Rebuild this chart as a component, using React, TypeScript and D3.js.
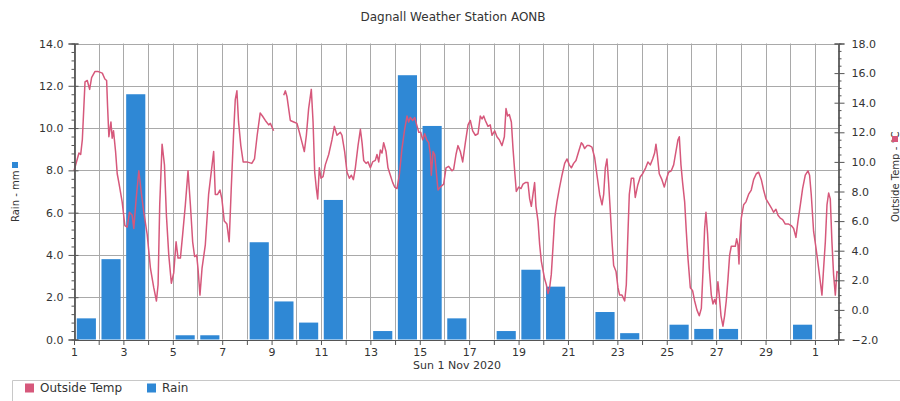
import React, { useEffect, useRef } from 'react';
import * as d3 from 'd3';

// daily rain, Nov 2020 (mm)
const rainDays = [1, 2, 3, 4, 5, 6, 7, 8, 9, 10, 11, 12, 13, 14, 15, 16, 17, 18, 19, 20, 21, 22, 23, 24, 25, 26, 27, 28, 29, 30];
const rainMm = [1.0, 3.8, 11.6, 0, 0.2, 0.2, 0, 4.6, 1.8, 0.8, 6.6, 0, 0.4, 12.5, 10.1, 1.0, 0, 0.4, 3.3, 2.5, 0, 1.3, 0.3, 0, 0.7, 0.5, 0.5, 0, 0, 0.7];

// outside temp: [hours since 1 Nov 00:00, degC]; null = missing data
const tempReadings: ([number, number] | null)[] = [
  [0, 9.4], [3.2, 10.2], [4.8, 10.6], [6.5, 10.5], [8.1, 11.5], [10.7, 15.4], [12.9, 15.5], [15.2, 14.9], [17.1, 15.7], [20.3, 16.1],
  [23.6, 16.1], [27.5, 16.0], [30, 15.6], [31.7, 15.5], [32.6, 13.8], [33.9, 11.7], [35.9, 12.7], [37.1, 11.6], [38.4, 12.1], [40.4, 10.7],
  [42, 9.2], [43.6, 8.6], [46.8, 7.3], [49.4, 5.7], [51.7, 5.6], [53.9, 6.6], [56.5, 6.4], [58.1, 5.5], [60.4, 7.5], [63, 9.4],
  [65.6, 7.8], [67.8, 6.6], [71.1, 5.1], [74.3, 2.8], [77.5, 1.5], [80.1, 0.6], [81.7, 1.7], [83.3, 7.1], [85.6, 11.2], [87.9, 9.8],
  [89.8, 6.4], [92.1, 3.7], [94.6, 1.8], [96.9, 2.5], [99.2, 4.6], [101.1, 3.5], [103.4, 3.5], [105.6, 5.1], [108.2, 7.1], [110.8, 9.4],
  [113.1, 7.1], [115.3, 4.6], [117.2, 3.6], [119.2, 3.7], [120.5, 2.8], [122.4, 1.0], [124.4, 2.8], [127.6, 4.4], [130.8, 7.8], [135.7, 10.7],
  [137.3, 7.8], [139.5, 7.8], [141.8, 8.1], [143.7, 7.5], [146, 6.0], [148.6, 5.8], [150.8, 4.6], [152.8, 8.2], [155, 11.8], [156.7, 14.2],
  [158.3, 14.8], [159.9, 12.7], [162.1, 11.1], [164.4, 10.0], [168, 10.0], [172.8, 9.9], [175.4, 10.2], [178, 11.8], [180.9, 13.3], [183.1, 13.1],
  [185.9, 12.8], [189.2, 12.5], [190.8, 12.6], [194.0, 12.1],
  null,
  [203.8, 14.5], [205.4, 14.8], [207, 14.4], [210.2, 12.8], [213.5, 12.7], [216.7, 12.6], [219, 12.0], [221.6, 11.3], [223.8, 10.7], [225.8, 11.8],
  [228, 13.6], [230.6, 14.9], [232.3, 12.7], [233.9, 9.3], [235.5, 8.2], [236.8, 7.5], [238.4, 9.6], [240, 8.9], [242, 9.0], [244.2, 9.8],
  [247.5, 10.5], [250.7, 11.5], [253, 12.4], [255.6, 11.8], [258.8, 12.0], [260.4, 11.8], [263, 10.7], [265.3, 9.3], [267.6, 8.9], [269.5, 9.1],
  [271.5, 8.8], [273.4, 9.6], [276, 11.1], [278.3, 12.2], [279.9, 11.3], [281.5, 10.1], [283.8, 9.9], [285.7, 10.0], [288, 9.6], [290.2, 10.0],
  [292.8, 10.1], [294.4, 10.5], [296.1, 10.0], [297.7, 10.8], [299.3, 10.6], [300.9, 11.3], [303.2, 10.7], [305.1, 9.6], [307.4, 9.1], [309.7, 8.6],
  [311.6, 8.3], [313.9, 8.2], [316.1, 9.1], [318.7, 10.9], [321.3, 12.2], [323.6, 13.1], [325.2, 12.7], [326.8, 13.0], [329.1, 12.8], [331.1, 13.0],
  [333, 12.5], [335, 12.0], [336.9, 12.0], [338.8, 11.5], [340.8, 11.9], [342.7, 11.5], [344.7, 11.3], [346.3, 10.5], [347.2, 9.1], [348.9, 10.7],
  [350.5, 10.5], [352.1, 9.3], [353.7, 8.1], [356, 8.3], [359.2, 8.5], [361.5, 9.6], [364.1, 9.7], [367.3, 9.4], [368.9, 9.5], [371.2, 10.5],
  [373.1, 11.1], [375.4, 10.7], [377.7, 10.0], [380.3, 11.3], [382.9, 12.5], [385.1, 12.8], [387.4, 12.1], [390, 11.8], [392.6, 11.9], [394.8, 13.1],
  [396.5, 12.9], [398.1, 13.1], [399.7, 12.8], [402.3, 12.4], [404.5, 12.5], [406.2, 11.8], [408.8, 12.1], [411, 11.7], [413.3, 11.5], [415.9, 11.1],
  [418.2, 11.7], [419.8, 13.6], [421.4, 13.1], [423, 13.2], [425, 12.7], [426.6, 10.9], [428.2, 9.4], [429.8, 8.0], [432.1, 8.3], [434.4, 8.2],
  [436.3, 8.5], [438.6, 8.6], [441.1, 8.6], [442.8, 7.5], [444.4, 7.0], [446, 7.8], [447.6, 8.6], [448.9, 7.0], [450.9, 6.0], [452.5, 4.4],
  [454.1, 3.3], [455.4, 2.8], [457.3, 2.1], [459, 1.7], [460.6, 1.1], [462.2, 1.5], [463.8, 2.4], [465.4, 4.2], [467.1, 6.2], [469.3, 7.3],
  [471.6, 8.2], [474.2, 9.1], [476.8, 9.9], [479.1, 10.2], [481.3, 9.8], [483.3, 9.6], [485.5, 9.9], [487.8, 10.1], [490.4, 10.7], [493, 11.3],
  [494.3, 11.2], [496.2, 10.9], [498.5, 11.1], [500.8, 11.1], [503.3, 11.0], [505.9, 10.3], [508.2, 9.1], [510.8, 7.8], [513.1, 7.1], [514.7, 7.8],
  [516.3, 9.6], [517.9, 10.2], [519.5, 8.6], [521.2, 6.6], [522.8, 4.6], [524.4, 3.0], [526.7, 2.6], [528.6, 1.5], [530.2, 1.0], [532.5, 1.0],
  [535.1, 0.6], [536.7, 1.7], [538, 4.6], [539.6, 7.8], [541.6, 8.9], [543.8, 8.9], [545.4, 7.6], [547.7, 8.4], [550.3, 9.0], [552.6, 9.2],
  [555.5, 9.6], [557.7, 10.0], [560, 9.8], [562.3, 10.2], [564.2, 10.6], [565.5, 11.2], [566.8, 10.5], [568.7, 9.2], [571.3, 8.8], [573.6, 8.3],
  [575.5, 8.8], [577.8, 9.3], [580.4, 9.4], [582.7, 9.8], [584.9, 10.7], [586.9, 11.5], [588.2, 11.7], [589.8, 9.8], [591.4, 8.6], [593.4, 7.3],
  [595, 5.3], [596.6, 3.5], [598.9, 1.5], [601.1, 1.3], [603.1, 0.6], [605.3, 0.0], [607.6, -0.4], [609.6, 0.1], [611.2, 2.6], [612.8, 5.5],
  [614.1, 6.6], [615.7, 5.1], [617.3, 2.8], [619.3, 1.0], [620.9, 0.4], [622.5, 0.7], [623.8, 0.4], [625.7, 1.9], [627, 1.0], [628.7, -0.4],
  [630.6, -1.1], [632.2, -0.4], [633.8, 0.6], [635.5, 2.1], [637.1, 3.7], [638.7, 4.3], [641, 4.3], [642.6, 4.3], [643.9, 4.8], [645.2, 4.4],
  [646.2, 3.1], [646.8, 4.6], [648.4, 6.2], [650.7, 7.1], [653, 7.3], [655.5, 7.8], [658.1, 8.1], [660.4, 8.8], [663, 9.2], [665.3, 9.3],
  [667.9, 8.8], [670.1, 8.1], [672.4, 7.5], [675, 7.2], [677.6, 6.9], [679.8, 6.6], [682.1, 6.8], [684.1, 6.4], [686.3, 6.2], [688.6, 6.1],
  [691.2, 5.8], [694.4, 5.8], [697, 5.7], [699.3, 5.5], [701.5, 4.9], [703.5, 6.0], [705.8, 7.1], [708, 8.2], [710.6, 9.1], [713.2, 9.4],
  [714.8, 9.1], [716.4, 7.8], [718.7, 5.3], [721, 4.2], [723.6, 2.8], [725.2, 1.9], [726.8, 1.0], [728.4, 2.8], [730.1, 4.6], [731.7, 7.1],
  [733.3, 7.9], [734.9, 7.5], [736.5, 4.6], [738.1, 2.4], [739.8, 1.0], [741.4, 2.6], [742.4, 2.5],
];

const rainTicks = [0, 2, 4, 6, 8, 10, 12, 14];
const tempTicks = [-2, 0, 2, 4, 6, 8, 10, 12, 14, 16, 18];

const startMs = Date.UTC(2020, 10, 1);
const hourMs = 3600 * 1000;
const endHours = 742.4;

const rainColor = '#2f88d5';
const tempColor = '#d6587b';
const font = '"DejaVu Sans", Verdana, sans-serif';

const App: React.FC = () => {
  const ref = useRef<SVGSVGElement>(null);

  useEffect(() => {
    if (!ref.current) return;
    const svg = d3.select(ref.current);
    svg.selectAll('*').remove();

    const plot = { left: 74, right: 838, top: 43.5, bottom: 339.5 };
    const toDate = (h: number) => new Date(startMs + h * hourMs);

    const x = d3.scaleUtc()
      .domain([toDate(0), toDate(endHours)])
      .range([plot.left, plot.right]);
    const yRain = d3.scaleLinear().domain([0, 14]).range([plot.bottom, plot.top]);
    const yTemp = d3.scaleLinear().domain([-2, 18]).range([plot.bottom, plot.top]);

    svg.append('rect').attr('width', 900).attr('height', 401).attr('fill', '#fff');

    // title
    svg.append('text')
      .attr('x', 453).attr('y', 21)
      .attr('text-anchor', 'middle')
      .style('font-family', font).style('font-size', '12px').style('fill', '#333')
      .text('Dagnall Weather Station AONB');

    // grid
    const days = x.ticks(d3.utcDay.every(1) as any);
    const grid = svg.append('g').attr('stroke', '#a9a9a9').attr('stroke-width', 1);
    grid.selectAll('.vg').data(days).join('line')
      .attr('x1', d => Math.round(x(d)) + 0.5).attr('x2', d => Math.round(x(d)) + 0.5)
      .attr('y1', plot.top).attr('y2', plot.bottom);
    grid.selectAll('.hg').data(rainTicks.slice(1)).join('line')
      .attr('x1', plot.left).attr('x2', plot.right)
      .attr('y1', d => Math.round(yRain(d)) + 0.5).attr('y2', d => Math.round(yRain(d)) + 0.5);

    // rain bars
    svg.append('g').selectAll('rect')
      .data(rainDays.map((d, i) => ({ day: d, mm: rainMm[i] })).filter(d => d.mm > 0))
      .join('rect')
      .attr('x', d => x(toDate((d.day - 1) * 24 + 2.7)))
      .attr('width', d => x(toDate((d.day - 1) * 24 + 21.3)) - x(toDate((d.day - 1) * 24 + 2.7)))
      .attr('y', d => yRain(d.mm))
      .attr('height', d => yRain(0) - yRain(d.mm))
      .attr('fill', rainColor);

    // temperature line
    const line = d3.line<[number, number] | null>()
      .defined(d => d !== null)
      .x(d => x(toDate(d![0])))
      .y(d => yTemp(d![1]))
      .curve(d3.curveLinear);
    svg.append('path')
      .datum(tempReadings)
      .attr('d', line)
      .attr('fill', 'none')
      .attr('stroke', tempColor)
      .attr('stroke-width', 1.5)
      .attr('stroke-linejoin', 'round');

    const styleAxis = (g: d3.Selection<SVGGElement, unknown, null, undefined>) => {
      g.select('.domain').attr('stroke', '#555');
      g.selectAll('.tick line').attr('stroke', '#555');
      g.selectAll('.tick text').style('font-family', font).style('font-size', '11px').style('fill', '#333');
    };

    // left axis
    const rainMinor = d3.range(0, 14.01, 0.4).filter(v => Math.abs(v / 2 - Math.round(v / 2)) > 0.01);
    svg.append('g').attr('transform', `translate(${plot.left + 0.5},0)`)
      .call(d3.axisLeft(yRain).tickValues(rainMinor).tickSize(3).tickFormat(() => ''))
      .call(styleAxis);
    svg.append('g').attr('transform', `translate(${plot.left + 0.5},0)`)
      .call(d3.axisRight(yRain).tickValues(rainTicks).tickSize(4).tickFormat(() => ''))
      .call(styleAxis);
    svg.append('g').attr('transform', `translate(${plot.left + 0.5},0)`)
      .call(d3.axisLeft(yRain).tickValues(rainTicks).tickSize(6).tickPadding(5).tickFormat(d3.format('.1f')))
      .call(styleAxis);

    // right axis
    const tempMinor = d3.range(-2, 18.01, 0.5).filter(v => Math.abs(v / 2 - Math.round(v / 2)) > 0.01);
    svg.append('g').attr('transform', `translate(${plot.right + 0.5},0)`)
      .call(d3.axisRight(yTemp).tickValues(tempMinor).tickSize(3).tickFormat(() => ''))
      .call(styleAxis);
    svg.append('g').attr('transform', `translate(${plot.right + 0.5},0)`)
      .call(d3.axisLeft(yTemp).tickValues(tempTicks).tickSize(4).tickFormat(() => ''))
      .call(styleAxis);
    svg.append('g').attr('transform', `translate(${plot.right + 0.5},0)`)
      .call(d3.axisRight(yTemp).tickValues(tempTicks).tickSize(6).tickPadding(7).tickFormat(d3.format('.1f')))
      .call(styleAxis);

    // bottom axis
    svg.append('g').attr('transform', `translate(0,${plot.bottom + 0.5})`)
      .call(d3.axisBottom(x).tickValues(days).tickSize(5).tickPadding(3)
        .tickFormat(d => ((d as Date).getUTCDate() % 2 === 1 ? d3.utcFormat('%-d')(d as Date) : '')))
      .call(styleAxis);

    svg.append('text')
      .attr('x', 457).attr('y', 369)
      .attr('text-anchor', 'middle')
      .style('font-family', font).style('font-size', '11px').style('fill', '#333')
      .text('Sun 1 Nov 2020');

    // axis titles
    const leftTitle = svg.append('g').attr('transform', 'translate(19,222) rotate(-90)');
    leftTitle.append('text').attr('x', 0).attr('y', 0)
      .style('font-family', font).style('font-size', '10px').style('fill', '#333')
      .text('Rain - mm');
    leftTitle.append('rect').attr('x', 54).attr('y', -7).attr('width', 6).attr('height', 6).attr('fill', rainColor);

    const rightTitle = svg.append('g').attr('transform', 'translate(899,222) rotate(-90)');
    rightTitle.append('text').attr('x', 0).attr('y', 0)
      .style('font-family', font).style('font-size', '10px').style('fill', '#333')
      .text('Outside Temp - °C');
    rightTitle.append('rect').attr('x', 80).attr('y', -7).attr('width', 6).attr('height', 6).attr('fill', tempColor);

    // legend
    svg.append('path')
      .attr('d', `M12.5,401 V380.5 H900`)
      .attr('fill', 'none').attr('stroke', '#c8c8c8').attr('stroke-width', 1);
    const legend = svg.append('g').attr('transform', 'translate(0,388)');
    const items = [
      { label: 'Outside Temp', color: tempColor, x: 25 },
      { label: 'Rain', color: rainColor, x: 147 },
    ];
    const li = legend.selectAll('g').data(items).join('g')
      .attr('transform', d => `translate(${d.x},0)`);
    li.append('rect').attr('x', 0).attr('y', -4.5).attr('width', 9).attr('height', 9).attr('fill', d => d.color);
    li.append('text').attr('x', 15).attr('y', 4)
      .style('font-family', font).style('font-size', '12px').style('fill', '#333')
      .text(d => d.label);
  }, []);

  return (
    <svg
      ref={ref}
      width={900}
      height={401}
      style={{ position: 'absolute', left: 0, top: 0, display: 'block' }}
    />
  );
};

export default App;
